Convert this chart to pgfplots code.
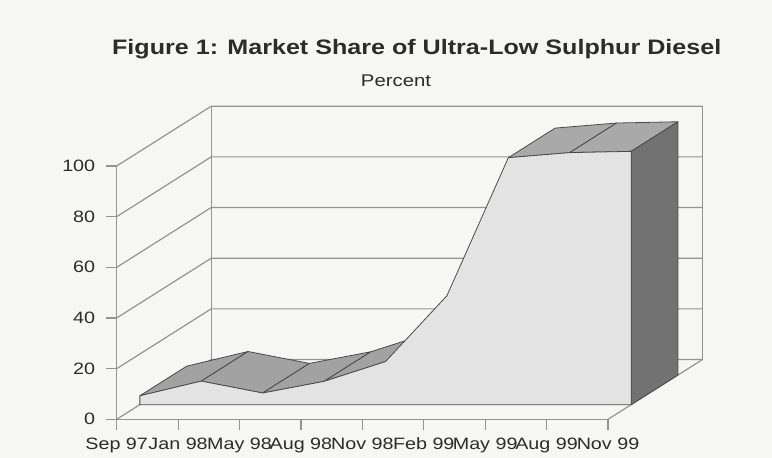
\documentclass[border=0pt]{standalone}
\usepackage{fontspec}
\setmainfont{Liberation Sans}[FakeStretch=1.2]
\usepackage{pgfplots}
\pgfplotsset{compat=1.18}
\usepackage{pgfplotstable}

\definecolor{bg}{HTML}{F6F6F4}
\definecolor{gridc}{HTML}{939393}
\definecolor{frontc}{HTML}{E3E3E3}
\definecolor{topc}{HTML}{A2A2A2}
\definecolor{topc2}{HTML}{A9A9A9}
\definecolor{sidec}{HTML}{727272}
\definecolor{edgec}{HTML}{4A4A4A}
\definecolor{txt}{HTML}{2C2C2C}

\pgfplotsset{
  table/slab/.style={
    row sep=\\,
    x expr=\thisrow{i}+0.377+0.762*\thisrow{d},
    y expr=\thisrow{v}+5.78+11.68*\thisrow{d}},
  table/wall/.style={row sep=\\, x=i, y=w},
  face/.style={draw=edgec, line width=0.8bp, line join=round},
}

\begin{document}
\begin{tikzpicture}
\path[use as bounding box, fill=bg] (-116.7bp,-38.7bp) rectangle (655.3bp,419.3bp);
\begin{axis}[
  at={(0,0)}, anchor=south west,
  scale only axis, width=491.3bp, height=253.3bp,
  xmin=0, xmax=8, ymin=0, ymax=100,
  clip=false, no markers,
  axis x line*=bottom, axis y line*=left,
  axis line style={gridc, line width=1.2bp},
  tick style={gridc, line width=1.2bp},
  tick align=outside, major tick length=11bp,
  xtick={0,...,8},
  xticklabels={Sep 97,Jan 98,May 98,Aug 98,Nov 98,Feb 99,May 99,Aug 99,Nov 99},
  ytick={0,20,...,100},
  tick label style={font=\fontsize{16.5}{16.5}\selectfont, text=txt},
  yticklabel style={xshift=-7bp},
  xticklabel style={yshift=-4bp},
  /pgf/number format/assume math mode=true,
]
% side wall and back wall gridlines
\pgfplotsinvokeforeach{0,20,40,60,80,100}{
  \addplot[gridc, line width=1.2bp] table[row sep=\\, x=i, y expr=\thisrow{w}+#1]
    {i w\\ 0 0\\ 1.5388 23.6\\ 9.5388 23.6\\};
}
\addplot[gridc, line width=1.2bp] table[wall] {i w\\ 1.5388 23.6\\ 1.5388 123.6\\};
\addplot[gridc, line width=1.2bp] table[wall] {i w\\ 9.5388 23.6\\ 9.5388 123.6\\};
\addplot[gridc, line width=1.2bp] table[wall] {i w\\ 8 0\\ 9.5388 23.6\\};

% top surfaces (visible segments)
\addplot[face, fill=topc] table[slab] {i v d\\ 0 3.5 0\\ 1 9.3 0\\ 1 9.3 1\\ 0 3.5 1\\} -- cycle;
\addplot[face, fill=topc] table[slab] {i v d\\ 1 9.3 0\\ 2 4.6 0\\ 2 4.6 1\\ 1 9.3 1\\} -- cycle;
\addplot[face, fill=topc] table[slab] {i v d\\ 2 4.6 0\\ 3 9.2 0\\ 3 9.2 1\\ 2 4.6 1\\} -- cycle;
\addplot[face, fill=topc] table[slab] {i v d\\ 3 9.2 0\\ 4 17 0\\ 4 17 1\\ 3 9.2 1\\} -- cycle;
\addplot[face, fill=topc2] table[slab] {i v d\\ 6 97.5 0\\ 7 99.5 0\\ 7 99.5 1\\ 6 97.5 1\\} -- cycle;
\addplot[face, fill=topc2] table[slab] {i v d\\ 7 99.5 0\\ 8 100 0\\ 8 100 1\\ 7 99.5 1\\} -- cycle;
% right side face
\addplot[face, fill=sidec] table[slab] {i v d\\ 8 0 0\\ 8 100 0\\ 8 100 1\\ 8 0 1\\} -- cycle;
% front face
\addplot[face, fill=frontc] table[slab] {i v d\\ 0 0 0\\ 0 3.5 0\\ 1 9.3 0\\ 2 4.6 0\\ 3 9.2 0\\ 4 17 0\\ 5 43 0\\ 6 97.5 0\\ 7 99.5 0\\ 8 100 0\\ 8 0 0\\} -- cycle;
\end{axis}
\node[anchor=base, text=txt, font=\fontsize{21}{25}\selectfont\bfseries] at (300bp,364.3bp) {Figure 1: Market Share of Ultra-Low Sulphur Diesel};
\node[anchor=base, text=txt, font=\fontsize{17}{20}\selectfont] at (279.3bp,332.6bp) {Percent};
\end{tikzpicture}
\end{document}
